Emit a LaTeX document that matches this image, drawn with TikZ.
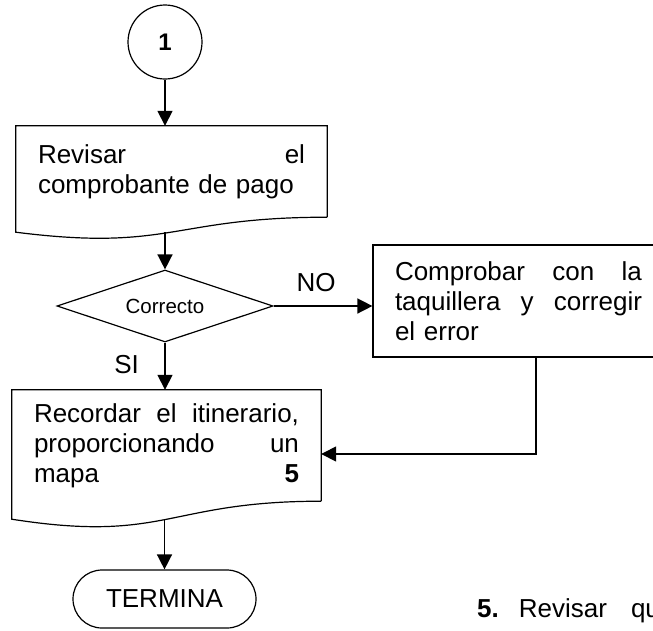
\documentclass[tikz,border=0pt]{standalone}
\usepackage{fontspec}
\setmainfont{Liberation Sans}
\usetikzlibrary{shapes.geometric,arrows.meta}

\newcommand{\flowfont}{\fontsize{26}{30}\selectfont}
\tikzset{
    outline/.style={line width=1.2pt},
    proc/.style={rectangle, text width=#1, inner xsep=22pt, inner ysep=0pt, align=left, font=\flowfont},
    arr/.style={line width=1.5pt, -{Triangle[length=15pt,width=15pt]}},
    lbl/.style={font=\flowfont}
}

\begin{document}
\begin{tikzpicture}[x=1pt,y=1pt]
    \useasboundingbox (0,0) rectangle (653,-630);
    \clip (0,0) rectangle (653,-630);
    \node [circle, draw, outline, minimum size=74pt, inner sep=0pt, font=\bfseries\fontsize{24}{28}\selectfont] (uno) at (165,-42) {1};
    \node [proc=267pt, minimum height=91pt] (rev) at (171.5,-171.5) {Revisar\hfill el\\ comprobante de pago};
    \draw [outline] (rev.south east) -- (rev.north east) -- (rev.north west) -- ([yshift=-15pt]rev.south west)
        .. controls +(155.5,-19.7) and +(-155.5,0) .. coordinate[pos=.5] (rev-w) (rev.south east);
    \node [diamond, draw, outline, aspect=3, minimum width=216pt, minimum height=72pt, inner sep=0pt, font=\fontsize{20.5}{24}\selectfont] (dec) at (165,-306) {Correcto};
    \node [proc=247pt, draw, outline, minimum height=112pt] (fix) at (518.5,-301) {Comprobar\hfill con\hfill la\\ taquillera\hfill y\hfill corregir\\ el error};
    \node [proc=265pt, minimum height=111pt] (rec) at (166.5,-445.5) {Recordar\hfill el\hfill itinerario,\\ proporcionando\hfill un\\ mapa\hfill\textbf{5}};
    \draw [outline] (rec.south east) -- (rec.north east) -- (rec.north west) -- ([yshift=-18pt]rec.south west)
        .. controls +(154.5,-24.2) and +(-154.5,0) .. coordinate[pos=.5] (rec-w) (rec.south east);
    \node [rectangle, draw, outline, rounded corners=29pt, minimum width=183pt, minimum height=58pt, font=\flowfont] (term) at (164.5,-599) {TERMINA};
    \node [lbl, anchor=base west, inner sep=0pt] (nota) at (477,-617) {\textbf{5.}\hspace{20pt}Revisar\hspace{24pt}qu};
    % connectors
    \draw [arr] (uno) -- (uno |- rev.north);
    \draw [arr] (dec |- rev-w) -- (dec.north);
    \draw [arr] (dec.east) -- (dec.east -| fix.west) node [lbl, above=10pt, pos=.43] {NO};
    \draw [arr] (dec.south) -- (dec.south |- rec.north) node [lbl, left=22pt, pos=.46] {SI};
    \draw [arr] ([xshift=17.5pt]fix.south) |- ([yshift=-8.5pt]rec.east);
    \draw [arr] (term |- rec-w) -- (term.north);
\end{tikzpicture}
\end{document}
